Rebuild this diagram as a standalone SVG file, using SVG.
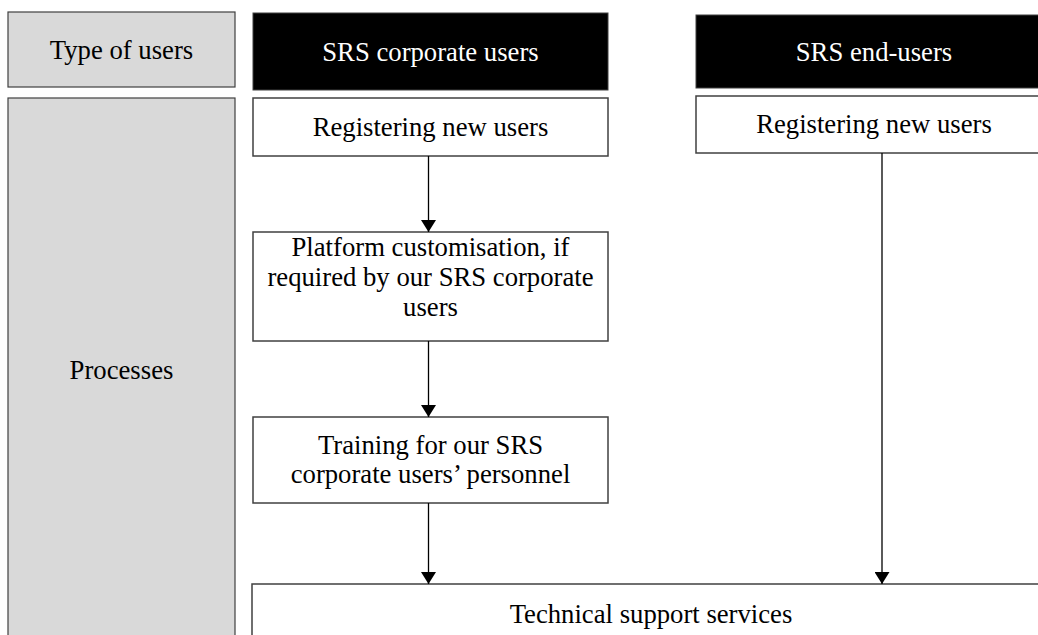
<svg xmlns="http://www.w3.org/2000/svg" width="1038" height="635" viewBox="0 0 1038 635">
<defs>
<style>
text{font-family:"Liberation Serif","Times New Roman",serif;font-size:26.7px;text-anchor:middle;fill:#000}
.gray{fill:#d9d9d9;stroke:#404040;stroke-width:1.2}
.blk{fill:#000;stroke:#404040;stroke-width:1}
.box{fill:#fff;stroke:#404040;stroke-width:1.5}
.w{fill:#fff}
.con{stroke:#000;stroke-width:1.3;fill:none;marker-end:url(#ah)}
</style>
<marker id="ah" viewBox="0 0 12 15" refX="12" refY="7.5" markerWidth="12" markerHeight="15" markerUnits="userSpaceOnUse" orient="auto">
<path d="M0,0 L12,7.5 L0,15 Z" fill="#000"/>
</marker>
</defs>
<rect width="1038" height="635" fill="#fff"/>
<g id="type-of-users"><rect class="gray" x="8" y="12" width="227" height="75"/><text x="121.5" y="59">Type of users</text></g>
<g id="processes"><rect class="gray" x="8" y="98" width="227" height="560"/><text x="121.5" y="379">Processes</text></g>
<g id="corp-header"><rect class="blk" x="253" y="13" width="355" height="77"/><text class="w" x="430.5" y="61">SRS corporate users</text></g>
<g id="end-header"><rect class="blk" x="696" y="15" width="356" height="73"/><text class="w" x="874" y="61">SRS end-users</text></g>
<g id="corp-register"><rect class="box" x="253" y="98" width="355" height="58"/><text x="430.5" y="136">Registering new users</text></g>
<g id="end-register"><rect class="box" x="696" y="96" width="356" height="57"/><text x="874" y="133">Registering new users</text></g>
<g id="customisation"><rect class="box" x="253" y="232" width="355" height="109"/><text x="430.5" y="256">Platform customisation, if</text><text x="430.5" y="286">required by our SRS corporate</text><text x="430.5" y="316">users</text></g>
<g id="training"><rect class="box" x="253" y="417" width="355" height="86"/><text x="430.5" y="454">Training for our SRS</text><text x="430.5" y="483">corporate users’ personnel</text></g>
<g id="tech-support"><rect class="box" x="252" y="584" width="798" height="80"/><text x="651" y="623">Technical support services</text></g>
<g id="connectors">
<line class="con" x1="428.5" y1="156" x2="428.5" y2="232"/>
<line class="con" x1="428.5" y1="341" x2="428.5" y2="417"/>
<line class="con" x1="428.5" y1="503" x2="428.5" y2="584"/>
<line class="con" x1="882" y1="153" x2="882" y2="584"/>
</g>
</svg>
